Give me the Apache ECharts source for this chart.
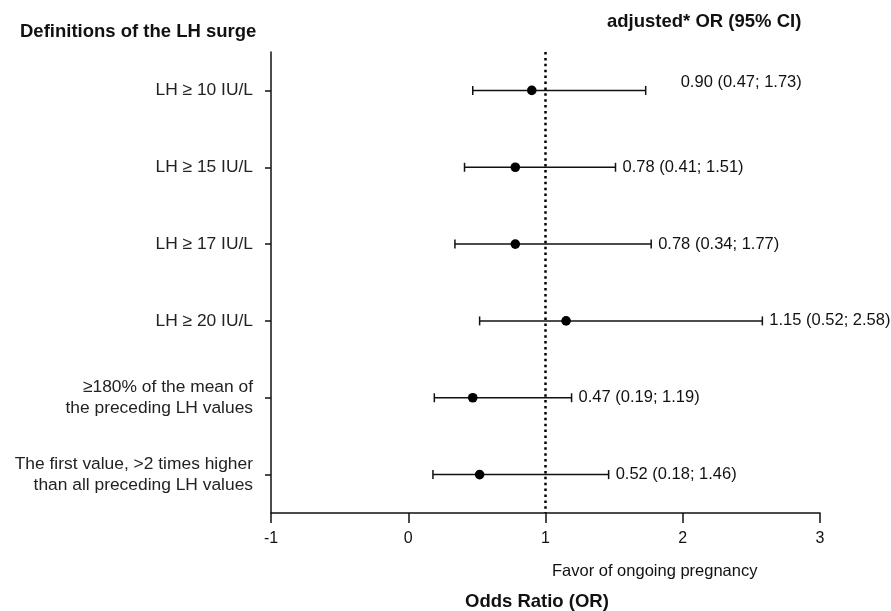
<!DOCTYPE html>
<html>
<head>
<meta charset="utf-8">
<script src="https://cdn.jsdelivr.net/npm/echarts@6/dist/echarts.min.js"></script>
<style>
html,body{margin:0;padding:0;background:#fff;}
#chart{width:891px;height:611px;}
</style>
</head>
<body>
<div id="chart"></div>
<script>
var categories = [
  'LH \u2265 10 IU/L',
  'LH \u2265 15 IU/L',
  'LH \u2265 17 IU/L',
  'LH \u2265 20 IU/L',
  '\u2265180% of the mean of\nthe preceding LH values',
  'The first value, >2 times higher\nthan all preceding LH values'
];
var orValues = [0.90, 0.78, 0.78, 1.15, 0.47, 0.52];
var ciLow    = [0.47, 0.41, 0.34, 0.52, 0.19, 0.18];
var ciHigh   = [1.73, 1.51, 1.77, 2.58, 1.19, 1.46];
var xTicks   = [-1, 0, 1, 2, 3];

var FONT = 'Liberation Sans, Arial, Helvetica, sans-serif';
var chart = echarts.init(document.getElementById('chart'), null, {renderer: 'canvas'});

var seriesData = categories.map(function (c, i) {
  return [i, orValues[i], ciLow[i], ciHigh[i]];
});

function fmt(v) { return v.toFixed(2); }

var option = {
  backgroundColor: '#fff',
  animation: false,
  grid: {left: 271, right: 71, top: 52, bottom: 98, containLabel: false},
  xAxis: {
    type: 'value',
    min: xTicks[0],
    max: xTicks[xTicks.length - 1],
    interval: 1,
    splitLine: {show: false},
    axisLine: {show: true, onZero: false, lineStyle: {color: '#111', width: 1.5}},
    axisTick: {show: true, length: 10, lineStyle: {color: '#111', width: 1.5}},
    axisLabel: {color: '#111', fontSize: 16, fontFamily: FONT, margin: 18}
  },
  yAxis: {
    type: 'category',
    data: categories,
    inverse: true,
    boundaryGap: true,
    axisLine: {show: true, onZero: false, lineStyle: {color: '#111', width: 1.5}},
    axisTick: {show: true, alignWithLabel: true, length: 6, lineStyle: {color: '#111', width: 1.5}},
    axisLabel: {color: '#222', fontSize: 17.4, fontFamily: FONT, margin: 18, lineHeight: 21, align: 'right'},
    splitLine: {show: false}
  },
  series: [
    {
      type: 'custom',
      clip: false,
      data: seriesData,
      encode: {x: [1, 2, 3], y: 0},
      renderItem: function (params, api) {
        var idx = api.value(0);
        var pOr = api.coord([api.value(1), idx]);
        var pLo = api.coord([api.value(2), idx]);
        var pHi = api.coord([api.value(3), idx]);
        var cap = 4.5;
        var lineStyle = {stroke: '#111', lineWidth: 1.5};
        var labelText = fmt(api.value(1)) + ' (' + fmt(api.value(2)) + '; ' + fmt(api.value(3)) + ')';
        var lx = pHi[0] + 7;
        var ly = pHi[1];
        if (params.dataIndex === 0) { lx = pHi[0] + 35; ly = pHi[1] - 8; }
        return {
          type: 'group',
          children: [
            {type: 'line', shape: {x1: pLo[0], y1: pLo[1], x2: pHi[0], y2: pHi[1]}, style: lineStyle},
            {type: 'line', shape: {x1: pLo[0], y1: pLo[1] - cap, x2: pLo[0], y2: pLo[1] + cap}, style: lineStyle},
            {type: 'line', shape: {x1: pHi[0], y1: pHi[1] - cap, x2: pHi[0], y2: pHi[1] + cap}, style: lineStyle},
            {type: 'circle', shape: {cx: pOr[0], cy: pOr[1], r: 4.8}, style: {fill: '#000'}},
            {type: 'text', x: lx, y: ly, style: {text: labelText, fill: '#111', font: '16.5px ' + FONT, textAlign: 'left', textVerticalAlign: 'middle'}}
          ]
        };
      },
      markLine: {
        silent: true,
        symbol: ['none', 'none'],
        label: {show: false},
        lineStyle: {type: [2.5, 3.4], color: '#000', width: 2.5},
        data: [{xAxis: 1}]
      },
      z: 3
    }
  ],
  graphic: [
    {type: 'text', x: 20, y: 32, style: {text: 'Definitions of the LH surge', font: 'bold 18.5px ' + FONT, fill: '#111', textVerticalAlign: 'middle'}},
    {type: 'text', x: 607, y: 22, style: {text: 'adjusted* OR (95% CI)', font: 'bold 18.5px ' + FONT, fill: '#111', textVerticalAlign: 'middle'}},
    {type: 'text', x: 552, y: 571, style: {text: 'Favor of ongoing pregnancy', font: '16.5px ' + FONT, fill: '#111', textVerticalAlign: 'middle'}},
    {type: 'text', x: 465, y: 602, style: {text: 'Odds Ratio (OR)', font: 'bold 18.5px ' + FONT, fill: '#111', textVerticalAlign: 'middle'}}
  ]
};
chart.setOption(option);
</script>
</body>
</html>
